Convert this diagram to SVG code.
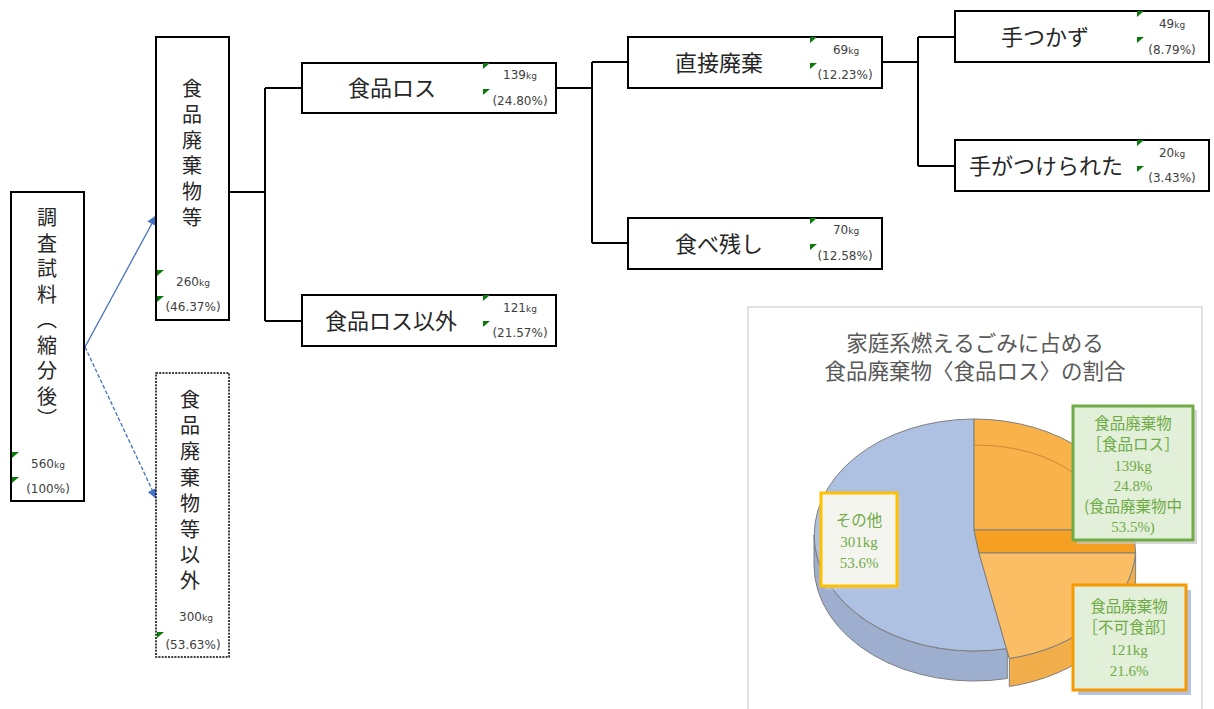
<svg xmlns="http://www.w3.org/2000/svg" width="1214" height="709" viewBox="0 0 1214 709">
<style>
.box{fill:#fff;stroke:#000;stroke-width:2}
.dot{fill:#fff;stroke:#000;stroke-width:1.5;stroke-dasharray:2 1.2}
.lbl{font-family:"Noto Sans CJK JP",sans-serif;font-size:20px;fill:#262626;text-anchor:middle}
.hl{font-size:22px}
.num{font-family:"DejaVu Sans","Liberation Sans",sans-serif;font-size:12px;fill:#404040;text-anchor:middle}
.kg{font-size:9px}
.con{fill:none;stroke:#000;stroke-width:2}
.arr{fill:none;stroke:#4472C4;stroke-width:1.3}
.ttl{font-family:"Noto Sans CJK JP",sans-serif;font-size:21.5px;fill:#595959;text-anchor:middle}
.pl{font-family:"Liberation Serif","Noto Serif CJK JP","Noto Sans CJK JP",serif;font-size:15px;fill:#6FAB45;text-anchor:middle}
.pj{font-family:"Noto Sans CJK JP",sans-serif;font-size:15.5px;fill:#6FAB45;text-anchor:middle}
.edge{stroke:#7F7F7F;stroke-width:1}
</style>
<defs>
<path id="gm" d="M0,0 h7 l-7,6 z" fill="#0A7A0A"/>
<marker id="ah" markerWidth="10" markerHeight="10" refX="9" refY="5" orient="auto" markerUnits="userSpaceOnUse">
<path d="M0,0 L10,5 L0,10 z" fill="#4472C4"/>
</marker>
</defs>

<g id="connectors">
<line class="arr" x1="85" y1="347" x2="156" y2="216" marker-end="url(#ah)"/>
<line class="arr" x1="85" y1="347" x2="156" y2="498" stroke-dasharray="4 2" marker-end="url(#ah)"/>
<path class="con" d="M229,192 H265 M265,88 V321 M265,88 H302 M265,321 H302"/>
<path class="con" d="M556,88 H592 M592,62 V243 M592,62 H628 M592,243 H628"/>
<path class="con" d="M882,62 H918 M918,37 V166 M918,37 H955 M918,166 H955"/>
</g>

<g id="node-sample">
<rect class="box" x="11" y="192" width="73" height="309"/>
<text class="lbl"><tspan x="47" y="225">調</tspan><tspan x="47" y="251">査</tspan><tspan x="47" y="276">試</tspan><tspan x="47" y="302">料</tspan><tspan x="47" y="327">︵</tspan><tspan x="47" y="353">縮</tspan><tspan x="47" y="378">分</tspan><tspan x="47" y="404">後</tspan><tspan x="47" y="426">︶</tspan></text>
<use href="#gm" x="12" y="452"/><use href="#gm" x="12" y="477"/>
<text class="num" x="48" y="468">560<tspan class="kg">kg</tspan></text>
<text class="num" x="48" y="493">(100%)</text>
</g>

<g id="node-foodwaste">
<rect class="box" x="156" y="37" width="73" height="283"/>
<text class="lbl"><tspan x="192" y="96">食</tspan><tspan x="192" y="122">品</tspan><tspan x="192" y="148">廃</tspan><tspan x="192" y="173">棄</tspan><tspan x="192" y="199">物</tspan><tspan x="192" y="225">等</tspan></text>
<use href="#gm" x="157" y="270"/><use href="#gm" x="157" y="296"/>
<text class="num" x="193" y="286">260<tspan class="kg">kg</tspan></text>
<text class="num" x="193" y="311">(46.37%)</text>
</g>

<g id="node-other">
<rect class="dot" x="156" y="373" width="73" height="284"/>
<text class="lbl"><tspan x="190" y="407">食</tspan><tspan x="190" y="433">品</tspan><tspan x="190" y="459">廃</tspan><tspan x="190" y="485">棄</tspan><tspan x="190" y="511">物</tspan><tspan x="190" y="537">等</tspan><tspan x="190" y="562">以</tspan><tspan x="190" y="588">外</tspan></text>
<use href="#gm" x="157" y="632"/>
<text class="num" x="196" y="621">300<tspan class="kg">kg</tspan></text>
<text class="num" x="193" y="649">(53.63%)</text>
</g>

<g id="node-loss">
<rect class="box" x="302" y="63" width="254" height="50"/>
<text class="lbl hl" x="392" y="96">食品ロス</text>
<use href="#gm" x="483" y="63"/><use href="#gm" x="483" y="89"/>
<text class="num" x="520" y="79">139<tspan class="kg">kg</tspan></text>
<text class="num" x="520" y="105">(24.80%)</text>
</g>

<g id="node-nonloss">
<rect class="box" x="302" y="295" width="254" height="51"/>
<text class="lbl hl" x="391" y="329">食品ロス以外</text>
<use href="#gm" x="483" y="295"/><use href="#gm" x="483" y="321"/>
<text class="num" x="520" y="312">121<tspan class="kg">kg</tspan></text>
<text class="num" x="520" y="337">(21.57%)</text>
</g>

<g id="node-direct">
<rect class="box" x="628" y="37" width="254" height="51"/>
<text class="lbl hl" x="719" y="71">直接廃棄</text>
<use href="#gm" x="810" y="37"/><use href="#gm" x="810" y="63"/>
<text class="num" x="846" y="54">69<tspan class="kg">kg</tspan></text>
<text class="num" x="845" y="79">(12.23%)</text>
</g>

<g id="node-leftover">
<rect class="box" x="628" y="218" width="254" height="51"/>
<text class="lbl hl" x="719" y="252">食べ残し</text>
<use href="#gm" x="810" y="218"/><use href="#gm" x="810" y="244"/>
<text class="num" x="846" y="234">70<tspan class="kg">kg</tspan></text>
<text class="num" x="845" y="260">(12.58%)</text>
</g>

<g id="node-untouched">
<rect class="box" x="955" y="11" width="254" height="51"/>
<text class="lbl hl" x="1045" y="45">手つかず</text>
<use href="#gm" x="1137" y="11"/><use href="#gm" x="1137" y="37"/>
<text class="num" x="1172" y="28">49<tspan class="kg">kg</tspan></text>
<text class="num" x="1172" y="54">(8.79%)</text>
</g>

<g id="node-touched">
<rect class="box" x="955" y="140" width="254" height="51"/>
<text class="lbl hl" x="1046" y="174">手がつけられた</text>
<use href="#gm" x="1137" y="140"/><use href="#gm" x="1137" y="166"/>
<text class="num" x="1172" y="157">20<tspan class="kg">kg</tspan></text>
<text class="num" x="1172" y="182">(3.43%)</text>
</g>

<g id="chart">
<rect x="748" y="307" width="454" height="410" fill="#fff" stroke="#D9D9D9" stroke-width="1.5"/>
<text class="ttl" x="975" y="351">家庭系燃えるごみに占める</text>
<text class="ttl" x="975" y="379">食品廃棄物〈食品ロス〉の割合</text>
<!-- sides -->
<path d="M814,535 A160,116 0 0,0 1007.3,648.5 L1007.3,678.5 A160,116 0 0,1 814,565 Z" fill="#9DAECF" class="edge"/>
<path d="M1009.3,658.5 A160,116 0 0,0 1135.6,553 L1135.6,581 A160,116 0 0,1 1009.3,686.5 Z" fill="#F3AE4C" class="edge"/>
<!-- top faces -->
<path d="M974,530 L974,419 A160,116 0 1,0 1007.3,648.5 L1009.3,658.5 L979,553 Z" fill="#AFC1E2" class="edge"/>
<path d="M974,530 L974,419 A160,116 0 0,1 1133.8,530 Z" fill="#F9B14A" class="edge"/>
<path d="M974,530 L1133.8,530 L1135.6,553 L979,553 Z" fill="#F6A023" class="edge"/>
<path d="M979,553 L1135.6,553 A160,116 0 0,1 1009.3,658.5 Z" fill="#FBBE65" class="edge"/>
<path d="M974,445 Q1035,445 1075,474" fill="none" stroke="#C98B35" stroke-width="1"/>
<!-- labels -->
<rect x="825" y="497" width="76" height="93" fill="#C8C8C8" opacity="0.6"/>
<rect x="821" y="493" width="76" height="93" fill="#F5F5EF" stroke="#FFC000" stroke-width="3"/>
<text class="pj" x="859" y="526">その他</text>
<text class="pl" x="859" y="547">301kg</text>
<text class="pl" x="859" y="568">53.6%</text>

<rect x="1077" y="410" width="120" height="134" fill="#C8C8C8" opacity="0.7"/>
<rect x="1073" y="406" width="120" height="134" fill="#E2EFD9" stroke="#70AD47" stroke-width="3"/>
<text class="pj" x="1133" y="429">食品廃棄物</text>
<text class="pj" x="1133" y="450">［食品ロス］</text>
<text class="pl" x="1133" y="471">139kg</text>
<text class="pl" x="1133" y="491">24.8%</text>
<text class="pj" x="1133" y="512">(食品廃棄物中</text>
<text class="pl" x="1133" y="532">53.5%)</text>

<rect x="1078" y="590" width="113" height="105" fill="#B7C3DE"/>
<rect x="1073" y="585" width="113" height="105" fill="#E2EFD9" stroke="#F59A00" stroke-width="3"/>
<text class="pj" x="1129" y="612">食品廃棄物</text>
<text class="pj" x="1129" y="633">［不可食部］</text>
<text class="pl" x="1129" y="655">121kg</text>
<text class="pl" x="1129" y="676">21.6%</text>
</g>
</svg>
